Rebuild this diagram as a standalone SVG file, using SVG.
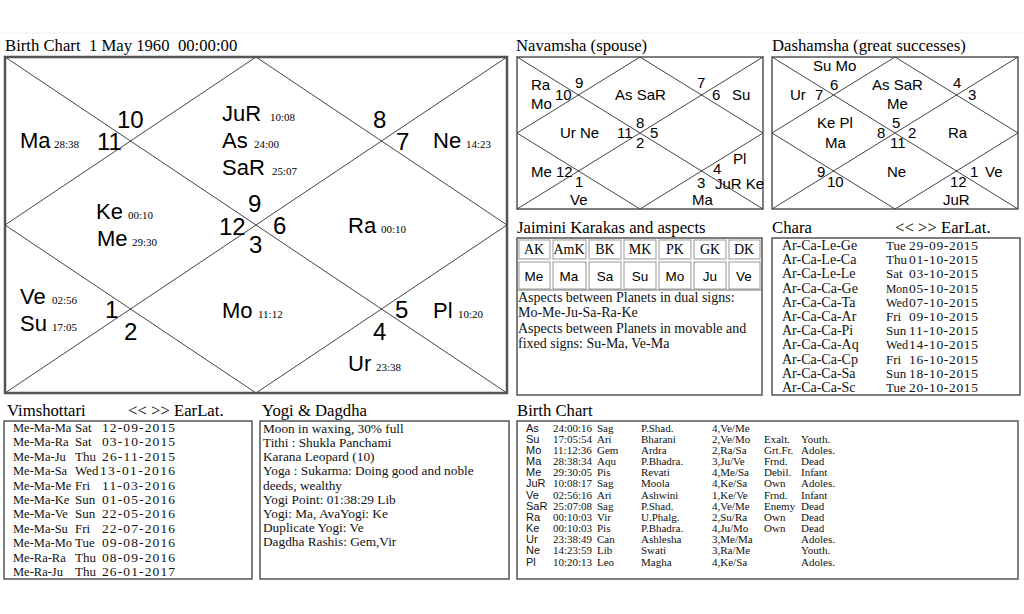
<svg xmlns="http://www.w3.org/2000/svg" width="1024" height="614" viewBox="0 0 1024 614">
<style>
.ti{font-family:"Liberation Serif",serif;font-size:16.7px;fill:#000;white-space:pre}
.pl{font-family:"Liberation Sans",Arial,sans-serif;font-size:22px;fill:#000}
.nm{font-family:"Liberation Sans",Arial,sans-serif;font-size:24px;fill:#000}
.dg{font-family:"Liberation Serif",serif;font-size:11px;fill:#000}
.vs{font-family:"Liberation Sans",Arial,sans-serif;font-size:15px;fill:#000}
.ls{font-family:"Liberation Serif",serif;font-size:14px;fill:#111}
.vn{font-family:"Liberation Serif",serif;font-size:12.5px;fill:#111}
.dy{font-family:"Liberation Serif",serif;font-size:13px;fill:#111}
.dt{font-family:"Liberation Serif",serif;font-size:13.5px;fill:#111}
.yg{font-family:"Liberation Serif",serif;font-size:13.3px;fill:#111;white-space:pre}
.js{font-family:"Liberation Serif",serif;font-size:14px;fill:#111}
.jh{font-family:"Liberation Serif",serif;font-size:14px;fill:#000;text-anchor:middle}
.jv{font-family:"Liberation Sans",Arial,sans-serif;font-size:13.5px;fill:#000;text-anchor:middle}
.tb{font-family:"Liberation Serif",serif;font-size:11px;fill:#111}
.ta{font-family:"Liberation Sans",Arial,sans-serif;font-size:11px;fill:#111}
.ln{stroke:#444;stroke-width:1;fill:none}
.fr{fill:#fff;stroke:#555;stroke-width:2.5}
.bx{fill:#fff;stroke:#555;stroke-width:1.5}
.cl{fill:none;stroke:#999;stroke-width:1}
</style>
<rect width="1024" height="614" fill="#fff"/>
<line x1="0" y1="33" x2="1024" y2="33" stroke="#eee" stroke-width="1"/>

<g id="birth-chart">
<text class="ti" x="5" y="51">Birth Chart  1 May 1960  00:00:00</text>
<rect class="fr" x="5" y="57" width="502" height="336"/>
<g class="ln">
<line x1="5" y1="57" x2="507" y2="393"/>
<line x1="507" y1="57" x2="5" y2="393"/>
<polygon points="256,57 507,225 256,393 5,225"/>
</g>
<text class="pl" x="20" y="148">Ma</text><text class="dg" x="54" y="148">28:38</text>
<text class="pl" x="222" y="121">JuR</text><text class="dg" x="270" y="121">10:08</text>
<text class="pl" x="222" y="148">As</text><text class="dg" x="254" y="148">24:00</text>
<text class="pl" x="222" y="175">SaR</text><text class="dg" x="272" y="175">25:07</text>
<text class="pl" x="433" y="148">Ne</text><text class="dg" x="466" y="148">14:23</text>
<text class="pl" x="96" y="219">Ke</text><text class="dg" x="128" y="219">00:10</text>
<text class="pl" x="97" y="246">Me</text><text class="dg" x="132" y="246">29:30</text>
<text class="pl" x="348" y="233">Ra</text><text class="dg" x="381" y="233">00:10</text>
<text class="pl" x="20" y="304">Ve</text><text class="dg" x="52" y="304">02:56</text>
<text class="pl" x="20" y="331">Su</text><text class="dg" x="52" y="331">17:05</text>
<text class="pl" x="222" y="318">Mo</text><text class="dg" x="258" y="318">11:12</text>
<text class="pl" x="433" y="318">Pl</text><text class="dg" x="458" y="318">10:20</text>
<text class="pl" x="348" y="371">Ur</text><text class="dg" x="376" y="371">23:38</text>
<text class="nm" x="117" y="128">10</text>
<text class="nm" x="97" y="150">11</text>
<text class="nm" x="373" y="128">8</text>
<text class="nm" x="396" y="150">7</text>
<text class="nm" x="248" y="212">9</text>
<text class="nm" x="219" y="235">12</text>
<text class="nm" x="273" y="234">6</text>
<text class="nm" x="249" y="253">3</text>
<text class="nm" x="105" y="318">1</text>
<text class="nm" x="124" y="340">2</text>
<text class="nm" x="395" y="318">5</text>
<text class="nm" x="373" y="340">4</text>
</g>

<g id="navamsha">
<text class="ti" x="516" y="51">Navamsha (spouse)</text>
<rect class="bx" x="517" y="57" width="246" height="152"/>
<g class="ln">
<line x1="517" y1="57" x2="763" y2="209"/>
<line x1="763" y1="57" x2="517" y2="209"/>
<polygon points="640,57 763,133 640,209 517,133"/>
</g>
<text class="vs" x="531" y="90">Ra</text>
<text class="vs" x="531" y="109">Mo</text>
<text class="vs" x="555" y="100">10</text>
<text class="vs" x="575" y="88">9</text>
<text class="vs" x="615" y="100">As SaR</text>
<text class="vs" x="697" y="88">7</text>
<text class="vs" x="712" y="100">6</text>
<text class="vs" x="732" y="100">Su</text>
<text class="vs" x="560" y="138">Ur Ne</text>
<text class="vs" x="617" y="138">11</text>
<text class="vs" x="636" y="128">8</text>
<text class="vs" x="650" y="138">5</text>
<text class="vs" x="636" y="148">2</text>
<text class="vs" x="531" y="177">Me 12</text>
<text class="vs" x="575" y="187">1</text>
<text class="vs" x="570" y="205">Ve</text>
<text class="vs" x="733" y="164">Pl</text>
<text class="vs" x="713" y="174">4</text>
<text class="vs" x="697" y="188">3</text>
<text class="vs" x="715" y="189">JuR Ke</text>
<text class="vs" x="692" y="205">Ma</text>
</g>

<g id="dashamsha">
<text class="ti" x="772" y="51">Dashamsha (great successes)</text>
<rect class="bx" x="772" y="57" width="246" height="152"/>
<g class="ln">
<line x1="772" y1="57" x2="1018" y2="209"/>
<line x1="1018" y1="57" x2="772" y2="209"/>
<polygon points="895,57 1018,133 895,209 772,133"/>
</g>
<text class="vs" x="813" y="71">Su Mo</text>
<text class="vs" x="830" y="90">6</text>
<text class="vs" x="815" y="100">7</text>
<text class="vs" x="790" y="100">Ur</text>
<text class="vs" x="872" y="90">As SaR</text>
<text class="vs" x="887" y="109">Me</text>
<text class="vs" x="953" y="88">4</text>
<text class="vs" x="968" y="100">3</text>
<text class="vs" x="817" y="128">Ke Pl</text>
<text class="vs" x="825" y="148">Ma</text>
<text class="vs" x="892" y="128">5</text>
<text class="vs" x="877" y="138">8</text>
<text class="vs" x="908" y="138">2</text>
<text class="vs" x="890" y="148">11</text>
<text class="vs" x="948" y="138">Ra</text>
<text class="vs" x="817" y="177">9</text>
<text class="vs" x="827" y="187">10</text>
<text class="vs" x="887" y="177">Ne</text>
<text class="vs" x="970" y="177">1</text>
<text class="vs" x="985" y="177">Ve</text>
<text class="vs" x="950" y="187">12</text>
<text class="vs" x="943" y="205">JuR</text>
</g>

<g id="jaimini">
<text class="ti" x="517" y="233">Jaimini Karakas and aspects</text>
<rect class="bx" x="517" y="238" width="245" height="157"/>
<g class="cl">
<rect x="519" y="240" width="31" height="19"/><rect x="553" y="240" width="33" height="19"/><rect x="589" y="240" width="32" height="19"/><rect x="624" y="240" width="32" height="19"/><rect x="659" y="240" width="32" height="19"/><rect x="694" y="240" width="32" height="19"/><rect x="729" y="240" width="31" height="19"/>
<rect x="519" y="262" width="31" height="27"/><rect x="553" y="262" width="33" height="27"/><rect x="589" y="262" width="32" height="27"/><rect x="624" y="262" width="32" height="27"/><rect x="659" y="262" width="32" height="27"/><rect x="694" y="262" width="32" height="27"/><rect x="729" y="262" width="31" height="27"/>
</g>
<line x1="517" y1="290" x2="762" y2="290" stroke="#777" stroke-width="1"/>
<text class="jh" x="534" y="254">AK</text><text class="jh" x="569" y="254">AmK</text><text class="jh" x="605" y="254">BK</text><text class="jh" x="640" y="254">MK</text><text class="jh" x="675" y="254">PK</text><text class="jh" x="710" y="254">GK</text><text class="jh" x="744" y="254">DK</text>
<text class="jv" x="534" y="281">Me</text><text class="jv" x="569" y="281">Ma</text><text class="jv" x="605" y="281">Sa</text><text class="jv" x="640" y="281">Su</text><text class="jv" x="675" y="281">Mo</text><text class="jv" x="710" y="281">Ju</text><text class="jv" x="744" y="281">Ve</text>
<text class="js" x="518" y="302">Aspects between Planets in dual signs:</text>
<text class="js" x="518" y="317">Mo-Me-Ju-Sa-Ra-Ke</text>
<text class="js" x="518" y="333">Aspects between Planets in movable and</text>
<text class="js" x="518" y="348">fixed signs: Su-Ma, Ve-Ma</text>
</g>

<g id="chara">
<text class="ti" x="772" y="233">Chara</text>
<text class="ti" x="895" y="233">&lt;&lt; &gt;&gt; EarLat.</text>
<rect class="bx" x="772" y="238" width="248" height="157"/>
<g class="ls">
<text x="782" y="250">Ar-Ca-Le-Ge</text><text x="782" y="264">Ar-Ca-Le-Ca</text><text x="782" y="278">Ar-Ca-Le-Le</text><text x="782" y="293">Ar-Ca-Ca-Ge</text><text x="782" y="307">Ar-Ca-Ca-Ta</text><text x="782" y="321">Ar-Ca-Ca-Ar</text><text x="782" y="335">Ar-Ca-Ca-Pi</text><text x="782" y="349">Ar-Ca-Ca-Aq</text><text x="782" y="364">Ar-Ca-Ca-Cp</text><text x="782" y="378">Ar-Ca-Ca-Sa</text><text x="782" y="392">Ar-Ca-Ca-Sc</text>
</g>
<g class="dy">
<text x="886" y="250">Tue</text><text x="886" y="264">Thu</text><text x="886" y="278">Sat</text><text x="886" y="293" textLength="22" lengthAdjust="spacingAndGlyphs">Mon</text><text x="886" y="307" textLength="22" lengthAdjust="spacingAndGlyphs">Wed</text><text x="886" y="321">Fri</text><text x="886" y="335">Sun</text><text x="886" y="349" textLength="22" lengthAdjust="spacingAndGlyphs">Wed</text><text x="886" y="364">Fri</text><text x="886" y="378">Sun</text><text x="886" y="392">Tue</text>
</g>
<g class="dt">
<text x="909" y="250" textLength="69">29-09-2015</text><text x="909" y="264" textLength="69">01-10-2015</text><text x="909" y="278" textLength="69">03-10-2015</text><text x="909" y="293" textLength="69">05-10-2015</text><text x="909" y="307" textLength="69">07-10-2015</text><text x="909" y="321" textLength="69">09-10-2015</text><text x="909" y="335" textLength="69">11-10-2015</text><text x="909" y="349" textLength="69">14-10-2015</text><text x="909" y="364" textLength="69">16-10-2015</text><text x="909" y="378" textLength="69">18-10-2015</text><text x="909" y="392" textLength="69">20-10-2015</text>
</g>
</g>

<g id="vimshottari">
<text class="ti" x="7" y="416">Vimshottari</text>
<text class="ti" x="128" y="416">&lt;&lt; &gt;&gt; EarLat.</text>
<rect class="bx" x="4" y="421" width="248" height="158"/>
<g class="vn">
<text x="13" y="432">Me-Ma-Ma</text><text x="13" y="446">Me-Ma-Ra</text><text x="13" y="461">Me-Ma-Ju</text><text x="13" y="475">Me-Ma-Sa</text><text x="13" y="490">Me-Ma-Me</text><text x="13" y="504">Me-Ma-Ke</text><text x="13" y="518">Me-Ma-Ve</text><text x="13" y="533">Me-Ma-Su</text><text x="13" y="547">Me-Ma-Mo</text><text x="13" y="562">Me-Ra-Ra</text><text x="13" y="576">Me-Ra-Ju</text>
</g>
<g class="dy">
<text x="75" y="432">Sat</text><text x="75" y="446">Sat</text><text x="75" y="461">Thu</text><text x="75" y="475">Wed</text><text x="75" y="490">Fri</text><text x="75" y="504">Sun</text><text x="75" y="518">Sun</text><text x="75" y="533">Fri</text><text x="75" y="547">Tue</text><text x="75" y="562">Thu</text><text x="75" y="576">Thu</text>
</g>
<g class="dt">
<text x="102" y="432" textLength="73">12-09-2015</text><text x="102" y="446" textLength="73">03-10-2015</text><text x="102" y="461" textLength="73">26-11-2015</text><text x="100" y="475" textLength="75">13-01-2016</text><text x="102" y="490" textLength="73">11-03-2016</text><text x="102" y="504" textLength="73">01-05-2016</text><text x="102" y="518" textLength="73">22-05-2016</text><text x="102" y="533" textLength="73">22-07-2016</text><text x="102" y="547" textLength="73">09-08-2016</text><text x="102" y="562" textLength="73">08-09-2016</text><text x="102" y="576" textLength="73">26-01-2017</text>
</g>
</g>

<g id="yogi">
<text class="ti" x="262" y="416">Yogi &amp; Dagdha</text>
<rect class="bx" x="260" y="421" width="249" height="158"/>
<g class="yg">
<text x="263" y="433">Moon in waxing, 30% full</text>
<text x="263" y="447">Tithi : Shukla  Panchami</text>
<text x="263" y="461">Karana Leopard (10)</text>
<text x="263" y="475">Yoga : Sukarma: Doing good and noble</text>
<text x="263" y="490">deeds, wealthy</text>
<text x="263" y="504">Yogi Point: 01:38:29 Lib</text>
<text x="263" y="518">Yogi: Ma, AvaYogi: Ke</text>
<text x="263" y="532">Duplicate Yogi: Ve</text>
<text x="263" y="546">Dagdha Rashis: Gem,Vir</text>
</g>
</g>

<g id="birth-table">
<text class="ti" x="517" y="416">Birth Chart</text>
<rect class="bx" x="517" y="421" width="501" height="158"/>
<g class="ta">
<text x="526" y="432">As</text><text x="526" y="443">Su</text><text x="526" y="454">Mo</text><text x="526" y="465">Ma</text><text x="526" y="476">Me</text><text x="526" y="487">JuR</text><text x="526" y="499">Ve</text><text x="526" y="510">SaR</text><text x="526" y="521">Ra</text><text x="526" y="532">Ke</text><text x="526" y="543">Ur</text><text x="526" y="554">Ne</text><text x="526" y="566">Pl</text>
</g>
<g class="tb">
<text x="553" y="432">24:00:16</text><text x="597" y="432">Sag</text><text x="641" y="432">P.Shad.</text><text x="712" y="432">4,Ve/Me</text>
<text x="553" y="443">17:05:54</text><text x="597" y="443">Ari</text><text x="641" y="443">Bharani</text><text x="712" y="443">2,Ve/Mo</text><text x="764" y="443">Exalt.</text><text x="801" y="443">Youth.</text>
<text x="553" y="454">11:12:36</text><text x="597" y="454">Gem</text><text x="641" y="454">Ardra</text><text x="712" y="454">2,Ra/Sa</text><text x="764" y="454">Grt.Fr.</text><text x="801" y="454">Adoles.</text>
<text x="553" y="465">28:38:34</text><text x="597" y="465">Aqu</text><text x="641" y="465">P.Bhadra.</text><text x="712" y="465">3,Ju/Ve</text><text x="764" y="465">Frnd.</text><text x="801" y="465">Dead</text>
<text x="553" y="476">29:30:05</text><text x="597" y="476">Pis</text><text x="641" y="476">Revati</text><text x="712" y="476">4,Me/Sa</text><text x="764" y="476">Debil.</text><text x="801" y="476">Infant</text>
<text x="553" y="487">10:08:17</text><text x="597" y="487">Sag</text><text x="641" y="487">Moola</text><text x="712" y="487">4,Ke/Sa</text><text x="764" y="487">Own</text><text x="801" y="487">Adoles.</text>
<text x="553" y="499">02:56:16</text><text x="597" y="499">Ari</text><text x="641" y="499">Ashwini</text><text x="712" y="499">1,Ke/Ve</text><text x="764" y="499">Frnd.</text><text x="801" y="499">Infant</text>
<text x="553" y="510">25:07:08</text><text x="597" y="510">Sag</text><text x="641" y="510">P.Shad.</text><text x="712" y="510">4,Ve/Me</text><text x="764" y="510">Enemy</text><text x="801" y="510">Dead</text>
<text x="553" y="521">00:10:03</text><text x="597" y="521">Vir</text><text x="641" y="521">U.Phalg.</text><text x="712" y="521">2,Su/Ra</text><text x="764" y="521">Own</text><text x="801" y="521">Dead</text>
<text x="553" y="532">00:10:03</text><text x="597" y="532">Pis</text><text x="641" y="532">P.Bhadra.</text><text x="712" y="532">4,Ju/Mo</text><text x="764" y="532">Own</text><text x="801" y="532">Dead</text>
<text x="553" y="543">23:38:49</text><text x="597" y="543">Can</text><text x="641" y="543">Ashlesha</text><text x="712" y="543">3,Me/Ma</text><text x="801" y="543">Adoles.</text>
<text x="553" y="554">14:23:59</text><text x="597" y="554">Lib</text><text x="641" y="554">Swati</text><text x="712" y="554">3,Ra/Me</text><text x="801" y="554">Youth.</text>
<text x="553" y="566">10:20:13</text><text x="597" y="566">Leo</text><text x="641" y="566">Magha</text><text x="712" y="566">4,Ke/Sa</text><text x="801" y="566">Adoles.</text>
</g>
</g>
</svg>
